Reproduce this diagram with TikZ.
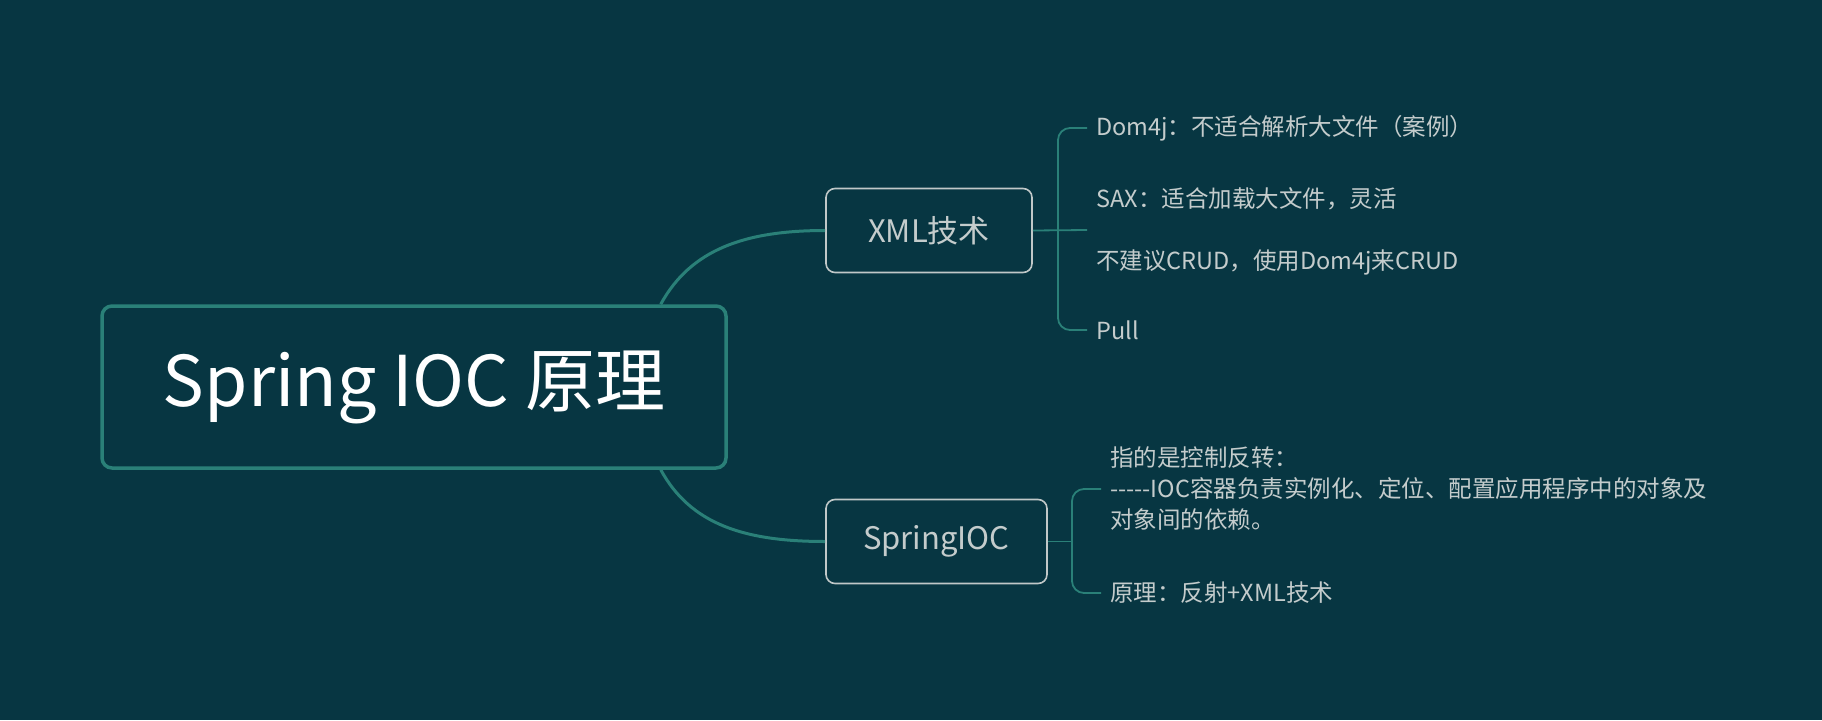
\documentclass[tikz,border=0pt]{standalone}
\usepackage{fontspec}
\setmainfont{Noto Sans CJK SC}
\usetikzlibrary{calc}
\definecolor{bg}{RGB}{7,54,66}
\definecolor{teal}{RGB}{42,128,120}
\definecolor{boxline}{RGB}{192,200,200}
\definecolor{txt}{RGB}{196,204,204}
\tikzset{
  mainbox/.style={draw=teal, line width=3.5pt, rounded corners=10pt, fill=bg, text=white,
    minimum width=624pt, minimum height=162pt, font=\fontsize{70}{74}\selectfont, inner sep=0pt},
  subbox/.style={draw=boxline, line width=1.6pt, rounded corners=9pt, text=txt,
    minimum height=84pt, font=\fontsize{31}{34}\selectfont, inner sep=0pt},
  leaf/.style={anchor=west, text=txt, font=\fontsize{23.5}{31}\selectfont, inner xsep=9pt, inner ysep=0pt, align=left},
  branch/.style={draw=teal, line width=3pt},
  twig/.style={draw=teal, line width=1.8pt, rounded corners=12pt},
}
\begin{document}
\begin{tikzpicture}[x=1pt,y=-1pt]
\fill[bg] (0,0) rectangle (1822,720);
\useasboundingbox (0,0) rectangle (1822,720);

\node[mainbox] (main) at (414,387) {Spring IOC 原理};
\node[subbox, minimum width=206pt] (xml) at (929,230.5) {XML技术};
\node[subbox, minimum width=221pt] (ioc) at (936.5,541.5) {SpringIOC};

\coordinate (mtop) at ([xshift=-67pt]main.north east);
\coordinate (mbot) at ([xshift=-67pt]main.south east);
\draw[branch] (mtop) .. controls ($(mtop)+(30,-55)$) and ($(xml.west)+(-80,0)$) .. (xml.west);
\draw[branch] (mbot) .. controls ($(mbot)+(30,55)$) and ($(ioc.west)+(-80,0)$) .. (ioc.west);

\node[leaf] (d1) at (1087,128) {Dom4j：不适合解析大文件（案例）};
\node[leaf] (d2) at (1087,199) {SAX：适合加载大文件，灵活};
\node[leaf] (d3) at (1087,262) {不建议CRUD，使用Dom4j来CRUD};
\node[leaf] (d4) at (1087,330) {Pull};
\coordinate (xmlend) at (1087,230);
\draw[twig] (d1.west) -- (1058,128) -- (1058,330) -- (d4.west);
\draw[twig] (xml.east) -- (xmlend);

\node[leaf] (s1) at (1101,489) {指的是控制反转：\\-{}-{}-{}-{}-IOC容器负责实例化、定位、配置应用程序中的对象及\\对象间的依赖。};
\node[leaf] (s2) at (1101,593) {原理：反射+XML技术};
\coordinate (iocj) at (1072,541.5);
\draw[twig] (s1.west) -- (1072,489) -- (1072,593) -- (s2.west);
\draw[twig] (ioc.east) -- (iocj);
\end{tikzpicture}
\end{document}
